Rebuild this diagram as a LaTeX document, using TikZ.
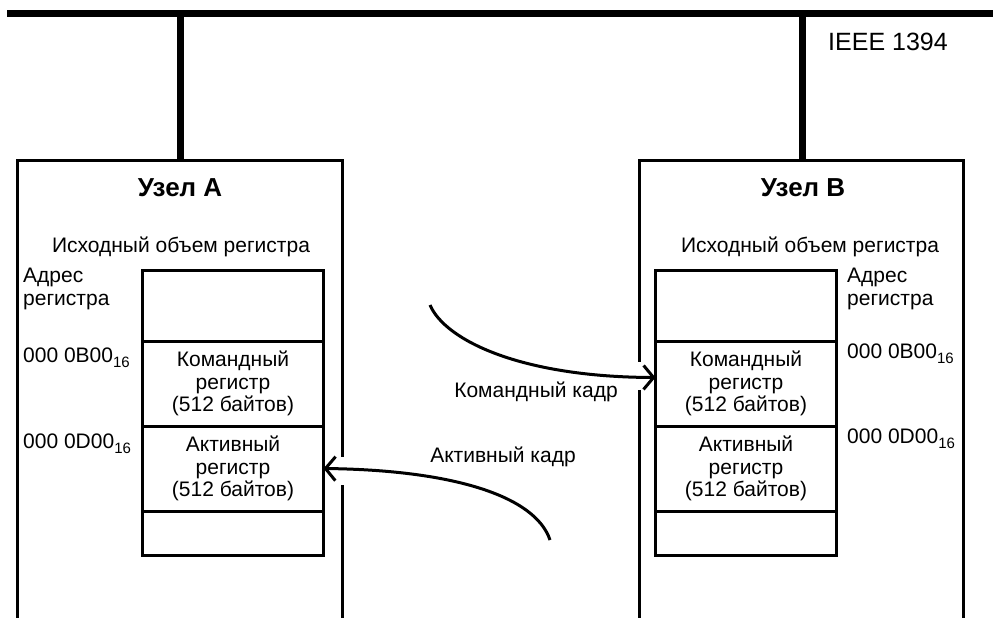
\documentclass[tikz,border=0pt]{standalone}
\usepackage{fontspec}
\setmainfont{Liberation Sans}
\usetikzlibrary{arrows.meta}
\newcommand\regfont{\fontsize{21}{22.5}\selectfont}
\newcommand\namefont{\fontsize{26}{26}\selectfont\bfseries}
\newcommand\idxsub[1]{\raisebox{-5pt}{\fontsize{15}{15}\selectfont #1}}
\tikzset{
    bus/.style={line width=7pt},
    frame/.style={line width=3pt},
    cell/.style={draw, line width=3pt, minimum width=181pt, inner sep=0pt, outer sep=0pt, align=center, font=\regfont},
    lbl/.style={inner sep=0pt, align=left, font=\regfont},
    frameflow/.style={line width=3pt, -{Straight Barb[length=10pt,width=24pt,line width=3pt]}},
}

\begin{document}
\begin{tikzpicture}[x=1pt, y=-1pt]
    \useasboundingbox (0,0) rectangle (993,618);
    \coordinate (busL) at (7,14);
    \coordinate (busR) at (993,14);
    \coordinate (tapA) at (180,14);
    \coordinate (tapB) at (802,14);
    \coordinate (topA) at (180,160);
    \coordinate (topB) at (802,160);
    \draw[bus] (busL) -- (busR);
    \draw[bus] (tapA) -- (topA);
    \draw[bus] (tapB) -- (topB);
    \draw[frame] (17,618) -- (17,160) -- (342,160) -- (342,618);
    \draw[frame] (639,618) -- (639,160) -- (963,160) -- (963,618);
    \node[font=\fontsize{25}{25}\selectfont] (bus) at (888,42) {IEEE 1394};

    \node[font=\namefont] (nameA) at (180,188) {Узел A};
    \node[font=\namefont] (nameB) at (803,188) {Узел B};
    \node[lbl, anchor=base] (spaceA) at (181,252) {Исходный объем регистра};
    \node[lbl, anchor=base] (spaceB) at (810,252) {Исходный объем регистра};

    \node[cell, minimum height=71pt] (freeA) at (233,305.5) {};
    \node[cell, minimum height=85pt, anchor=north] (cmdA) at (freeA.south) {Командный\\регистр\\(512 байтов)};
    \node[cell, minimum height=85pt, anchor=north] (actA) at (cmdA.south) {Активный\\регистр\\(512 байтов)};
    \node[cell, minimum height=44pt, anchor=north] (restA) at (actA.south) {};
    \node[cell, minimum height=71pt] (freeB) at (746,305.5) {};
    \node[cell, minimum height=85pt, anchor=north] (cmdB) at (freeB.south) {Командный\\регистр\\(512 байтов)};
    \node[cell, minimum height=85pt, anchor=north] (actB) at (cmdB.south) {Активный\\регистр\\(512 байтов)};
    \node[cell, minimum height=44pt, anchor=north] (restB) at (actB.south) {};

    \node[lbl, anchor=base west] (addrA) at (23,305) {Адрес\\регистра};
    \node[lbl, anchor=base west] (offcmdA) at (23,362) {000 0B00\idxsub{16}};
    \node[lbl, anchor=base west] (offactA) at (23,448) {000 0D00\idxsub{16}};
    \node[lbl, anchor=base west] (addrB) at (847,305) {Адрес\\регистра};
    \node[lbl, anchor=base west] (offcmdB) at (847,358) {000 0B00\idxsub{16}};
    \node[lbl, anchor=base west] (offactB) at (847,443) {000 0D00\idxsub{16}};

    \coordinate (cmdfrom) at (430,305);
    \coordinate (actfrom) at (550,540);
    \fill[white] (336,457) rectangle (348,485);
    \fill[white] (633,362) rectangle (645,390);
    \draw[frameflow] (cmdfrom) .. controls (445,340) and (520,377) .. ([yshift=6pt]cmdB.west);
    \draw[frameflow] (actfrom) .. controls (535,495) and (450,470) .. (actA.east);
    \node[lbl, anchor=base] (cmdlbl) at (536,397) {Командный кадр};
    \node[lbl, anchor=base] (actlbl) at (503,462) {Активный кадр};
\end{tikzpicture}
\end{document}
